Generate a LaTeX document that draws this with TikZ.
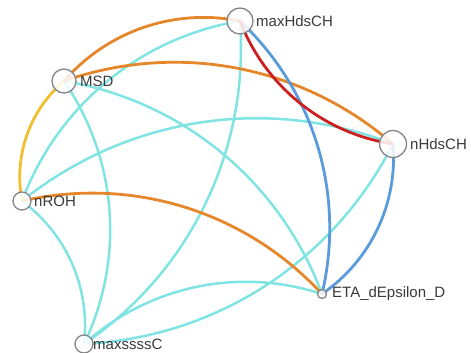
\documentclass[tikz,border=0pt]{standalone}
\usepackage{fontspec}
\setmainfont{Liberation Sans}
\usetikzlibrary{backgrounds}
\definecolor{corange}{HTML}{E5862B}
\definecolor{cred}{HTML}{CC1F1F}
\definecolor{cblue}{HTML}{5A9BDB}
\definecolor{ccyan}{HTML}{80E4E2}
\definecolor{cyellow}{HTML}{F0BE2E}
\definecolor{vgray}{HTML}{858585}
\definecolor{lblc}{HTML}{3A3A3A}
\begin{document}
\begin{tikzpicture}[x=1pt,y=-1pt,
  vtx/.style={circle, draw=vgray, line width=1.3pt, fill=white, fill opacity=0.85, draw opacity=1, inner sep=0pt, minimum size=#1},
  lbl/.style={anchor=west, text=lblc, font=\fontsize{15}{18}\selectfont, inner sep=0pt},
  lnk/.style={line width=2.8pt, bend left=30, looseness=0.92},
  clnk/.style={lnk, ccyan, line width=2.5pt}]
\useasboundingbox (0,0) rectangle (471,353);
% vertices
\node[vtx=26pt] (maxHdsCH) at (240,21) {};
\node[vtx=24pt] (MSD) at (64,81) {};
\node[vtx=27pt] (nHdsCH) at (393,144) {};
\node[vtx=18pt] (nROH) at (22,201) {};
\node[vtx=9pt] (ETA) at (322,294) {};
\node[vtx=18pt] (maxssssC) at (84,344) {};
% labels
\node[lbl] (lmaxHdsCH) at ([xshift=16pt]maxHdsCH.center) {maxHdsCH};
\node[lbl] (lMSD) at ([xshift=16pt]MSD.center) {MSD};
\node[lbl] (lnHdsCH) at ([xshift=17pt]nHdsCH.center) {nHdsCH};
\node[lbl] (lnROH) at ([xshift=12pt]nROH.center) {nROH};
\node[lbl] (lETA) at ([xshift=10pt]ETA.center) {ETA\_dEpsilon\_D};
\node[lbl] (lmaxssssC) at ([xshift=9pt]maxssssC.center) {maxssssC};
% links
\begin{scope}[on background layer]
\draw[clnk] (nROH.center) to (maxHdsCH.center);
\draw[clnk] (MSD.center) to (maxssssC.center);
\draw[clnk] (MSD.center) to (ETA.center);
\draw[clnk] (nROH.center) to (nHdsCH.center);
\draw[clnk] (maxHdsCH.center) to (maxssssC.center);
\draw[clnk] (maxssssC.center) to (ETA.center);
\draw[clnk] (nHdsCH.center) to (maxssssC.center);
\draw[clnk] (nROH.center) to (maxssssC.center);
\draw[lnk, cyellow] (nROH.center) to (MSD.center);
\draw[lnk, corange] (MSD.center) to (maxHdsCH.center);
\draw[lnk, corange] (MSD.center) to (nHdsCH.center);
\draw[lnk, corange] (nROH.center) to (ETA.center);
\draw[lnk, cblue] (maxHdsCH.center) to (ETA.center);
\draw[lnk, cblue] (nHdsCH.center) to (ETA.center);
\draw[lnk, cred] (nHdsCH.center) to (maxHdsCH.center);
\end{scope}
\end{tikzpicture}
\end{document}
